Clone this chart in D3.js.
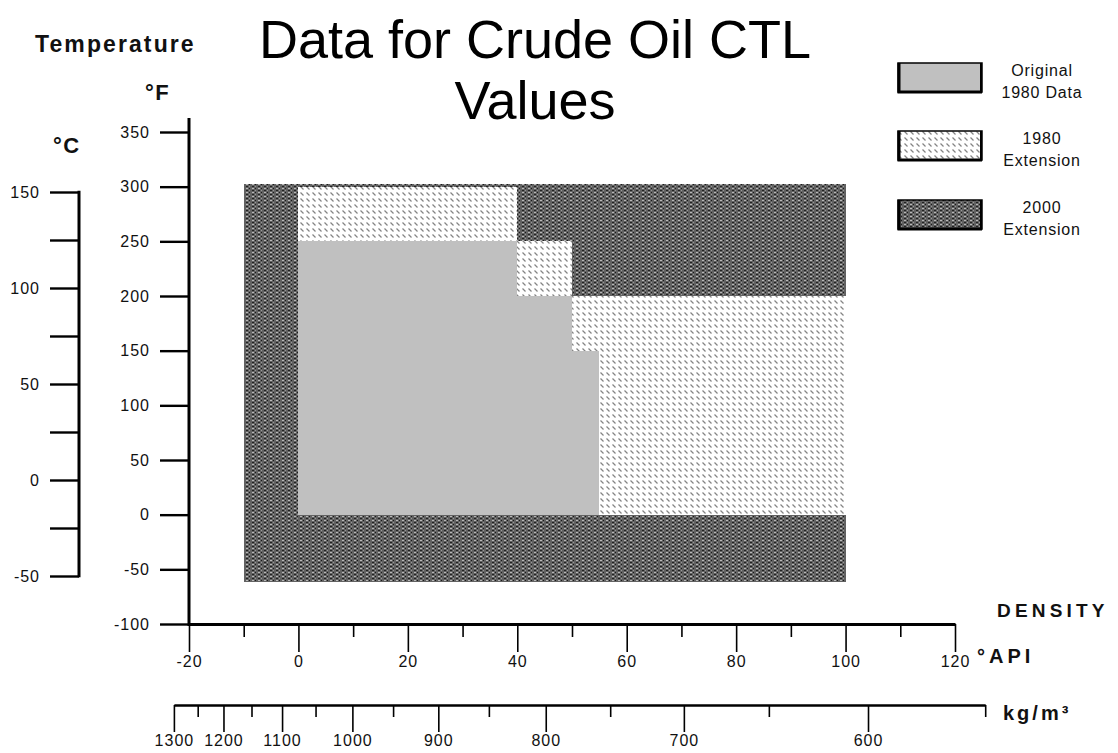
<!DOCTYPE html>
<html>
<head>
<meta charset="utf-8">
<script src="https://cdn.jsdelivr.net/npm/d3@7"></script>
<style>
  html, body { margin: 0; padding: 0; background: #fff; }
  svg { display: block; font-family: "Liberation Sans", Arial, sans-serif; }
  .tick text { font-size: 16px; letter-spacing: 1px; fill: #111; }
</style>
</head>
<body>
<svg id="chart" width="1118" height="753"></svg>
<script>
// ---------------- data ----------------
const titleLines = ["Data for Crude Oil CTL", "Values"];
const categories = ["Original 1980 Data", "1980 Extension", "2000 Extension"];
const legendLines = [["Original", "1980 Data"], ["1980", "Extension"], ["2000", "Extension"]];

// regions: API gravity range [api0, api1], temperature °F range [f0, f1]
const ext2000Regions = [
  { api0: -10, api1: 100, f0: -62, f1: 302 }
];
const orig1980Regions = [
  { api0: 0,  api1: 40, f0: 0, f1: 250 },
  { api0: 40, api1: 50, f0: 0, f1: 200 },
  { api0: 50, api1: 55, f0: 0, f1: 150 }
];
const ext1980Regions = [
  { api0: 0,  api1: 40,  f0: 250, f1: 300 },
  { api0: 40, api1: 50,  f0: 200, f1: 250 },
  { api0: 50, api1: 100, f0: 150, f1: 200 },
  { api0: 55, api1: 100, f0: 0,   f1: 150 }
];

const apiMajorTicks = [-20, 0, 20, 40, 60, 80, 100, 120];
const apiMinorTicks = [-10, 10, 30, 50, 70, 90, 110];
const fTicks = [-100, -50, 0, 50, 100, 150, 200, 250, 300, 350];
const cTicks = [-50, -25, 0, 25, 50, 75, 100, 125, 150];
const cLabels = [-50, 0, 50, 100, 150];
const kgMajorTicks = [1300, 1200, 1100, 1000, 900, 800, 700, 600];
const kgMinorTicks = [1250, 1150, 1050, 950, 850, 750, 650, 550];

// ---------------- scales ----------------
const svg = d3.select("#chart");
const x = d3.scaleLinear().domain([-20, 120]).range([189, 955]);
const yF = d3.scaleLinear().domain([-100, 350]).range([624, 132]);
const yC = d3.scaleLinear().domain([-50, 150]).range([576, 192]);
const WATER = 999.016;
const apiOf = rho => 141.5 * WATER / rho - 131.5;
// pixel position is linear in 1/density
const xKg = d3.scaleLinear().domain([1 / 1300, 1 / 550]).range([x(apiOf(1300)), x(apiOf(550))]);
const plain = d => String(d);

// ---------------- patterns ----------------
const defs = svg.append("defs");
const pd = defs.append("pattern").attr("id", "dark").attr("patternUnits", "userSpaceOnUse")
  .attr("width", 6).attr("height", 4);
pd.append("rect").attr("width", 6).attr("height", 4).attr("fill", "#626262");
pd.append("rect").attr("x", 0).attr("y", 0).attr("width", 2).attr("height", 1).attr("fill", "#b8b8b8");
pd.append("rect").attr("x", 3).attr("y", 0).attr("width", 1).attr("height", 1).attr("fill", "#1a1a1a");
pd.append("rect").attr("x", 0).attr("y", 2).attr("width", 2).attr("height", 1).attr("fill", "#222");
pd.append("rect").attr("x", 3).attr("y", 2).attr("width", 1).attr("height", 1).attr("fill", "#9a9a9a");

const ph = defs.append("pattern").attr("id", "hatch").attr("patternUnits", "userSpaceOnUse")
  .attr("width", 6).attr("height", 6);
ph.append("rect").attr("width", 6).attr("height", 6).attr("fill", "#fff");
ph.append("path").attr("d", "M0.5,0.5 L3.5,3.5").attr("stroke", "#858585").attr("stroke-width", 1.3);

const fills = { "Original 1980 Data": "#c0c0c0", "1980 Extension": "url(#hatch)", "2000 Extension": "url(#dark)" };

// ---------------- regions ----------------
function drawRegions(data, fill) {
  svg.append("g").selectAll("rect").data(data).join("rect")
    .attr("x", d => x(d.api0))
    .attr("y", d => yF(d.f1))
    .attr("width", d => x(d.api1) - x(d.api0))
    .attr("height", d => yF(d.f0) - yF(d.f1))
    .attr("fill", fill)
    .attr("shape-rendering", "crispEdges");
}
drawRegions(ext2000Regions, fills["2000 Extension"]);
drawRegions(orig1980Regions, fills["Original 1980 Data"]);
drawRegions(ext1980Regions, fills["1980 Extension"]);

// ---------------- axes ----------------
function styleAxis(g, tickW, domainW) {
  g.selectAll(".tick line").attr("stroke", "#000").attr("stroke-width", tickW);
  g.select(".domain").attr("stroke", "#000").attr("stroke-width", domainW);
}

// API axis
const gApi = svg.append("g").attr("transform", "translate(0,624)");
gApi.call(d3.axisBottom(x).tickValues(apiMajorTicks).tickSize(28).tickSizeOuter(0).tickPadding(4).tickFormat(plain));
styleAxis(gApi, 1.6, 3);
const gApiMinor = svg.append("g").attr("transform", "translate(0,624)");
gApiMinor.call(d3.axisBottom(x).tickValues(apiMinorTicks).tickSize(13).tickSizeOuter(0).tickFormat(""));
styleAxis(gApiMinor, 1.6, 0);
gApiMinor.select(".domain").remove();

// density axis
const gKg = svg.append("g").attr("transform", "translate(0,705)");
gKg.call(d3.axisBottom(xKg).tickValues(kgMajorTicks.map(r => 1 / r)).tickSize(27).tickSizeOuter(0).tickPadding(3)
  .tickFormat(d => String(Math.round(1 / d))));
styleAxis(gKg, 1.6, 2.6);
const gKgMinor = svg.append("g").attr("transform", "translate(0,705)");
gKgMinor.call(d3.axisBottom(xKg).tickValues(kgMinorTicks.map(r => 1 / r)).tickSize(12).tickSizeOuter(0).tickFormat(""));
styleAxis(gKgMinor, 1.6, 0);
gKgMinor.select(".domain").remove();

// °F axis
const gF = svg.append("g").attr("transform", "translate(189,0)");
gF.call(d3.axisLeft(yF).tickValues(fTicks).tickSize(29).tickSizeOuter(0).tickPadding(10).tickFormat(plain));
styleAxis(gF, 2.4, 0);
gF.select(".domain").remove();
svg.append("line").attr("x1", 189).attr("x2", 189).attr("y1", 118).attr("y2", 626)
  .attr("stroke", "#000").attr("stroke-width", 3);

// °C axis
const gC = svg.append("g").attr("transform", "translate(79,0)");
gC.call(d3.axisLeft(yC).tickValues(cTicks).tickSize(29).tickSizeOuter(0).tickPadding(10)
  .tickFormat(d => cLabels.includes(d) ? String(d) : ""));
styleAxis(gC, 2.4, 0);
gC.select(".domain").remove();
svg.append("line").attr("x1", 79).attr("x2", 79).attr("y1", yC(150) - 1.2).attr("y2", yC(-50) + 1.2)
  .attr("stroke", "#000").attr("stroke-width", 3);

// ---------------- labels ----------------
svg.append("g").selectAll("text").data(titleLines).join("text")
  .attr("x", 535).attr("y", (d, i) => 58 + i * 61)
  .attr("text-anchor", "middle").attr("font-size", 54).attr("fill", "#000")
  .text(d => d);

function label(txt, xx, yy, size, spacing) {
  svg.append("text").attr("x", xx).attr("y", yy).attr("font-size", size)
    .attr("font-weight", "bold").attr("letter-spacing", spacing).attr("fill", "#111").text(txt);
}
label("Temperature", 35, 52, 23, 2.1);
label("°F", 145, 100, 22, 1.5);
label("°C", 53, 153, 22, 1.5);
label("DENSITY", 997, 617, 19, 4.2);
label("°API", 977, 663, 20, 4);
label("kg/m³", 1003, 720, 20, 3);

// ---------------- legend ----------------
const legendY = [63, 131, 200];
const lg = svg.append("g").selectAll("g").data(categories).join("g")
  .attr("transform", (d, i) => `translate(898,${legendY[i]})`);
lg.append("rect").attr("x", 0).attr("y", 0).attr("width", 84).attr("height", 29)
  .attr("fill", d => fills[d]).attr("stroke", "#000").attr("stroke-width", 1.5);
lg.append("path").attr("d", "M1,0 V29 H84").attr("fill", "none").attr("stroke", "#000").attr("stroke-width", 3);
lg.append("path").attr("d", "M83,0 V29").attr("fill", "none").attr("stroke", "#000").attr("stroke-width", 2);
lg.selectAll("text").data((d, i) => legendLines[i]).join("text")
  .attr("x", 144).attr("y", (d, j) => 13 + j * 22)
  .attr("text-anchor", "middle").attr("font-size", 16).attr("letter-spacing", 0.8).attr("fill", "#111")
  .text(d => d);
</script>
</body>
</html>
